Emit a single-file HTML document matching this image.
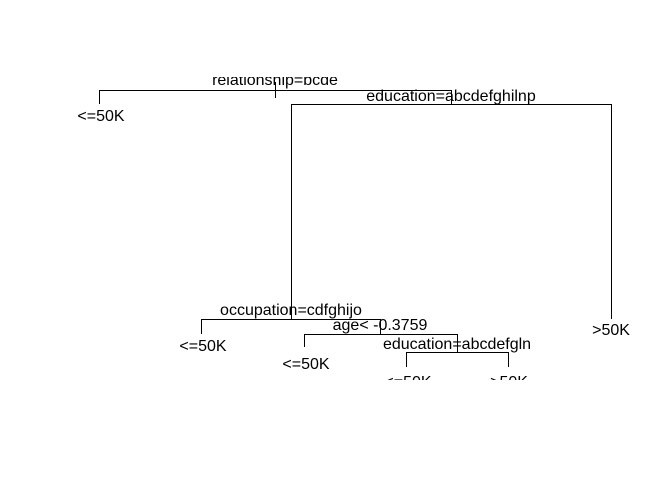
<!DOCTYPE html>
<html><head><style>html,body{margin:0;padding:0;background:#fff}</style></head>
<body>
<svg width="672" height="480" xmlns="http://www.w3.org/2000/svg" style="display:block">
<defs><clipPath id="c"><rect x="0" y="77" width="672" height="303"/></clipPath></defs>
<g clip-path="url(#c)" stroke="#000" stroke-width="1" fill="none" shape-rendering="crispEdges">
<path d="M275.5 82V98 M99.5 104V90.5H451.5V104"/>
<path d="M291.5 319V104.5H611.5V319"/>
<path d="M201.5 334V319.5H380.5V334"/>
<path d="M304.5 347V334.5H457.5V352"/>
<path d="M406.5 367V352.5H508.5V367"/>
</g>
<g clip-path="url(#c)" font-family="Liberation Sans, sans-serif" font-size="16" fill="#000" text-anchor="middle">
<text x="275" y="85">relationship=bcde</text>
<text x="451" y="101">education=abcdefghilnp</text>
<text x="101" y="121">&lt;=50K</text>
<text x="291" y="315">occupation=cdfghijo</text>
<text x="611" y="335">&gt;50K</text>
<text x="380" y="330">age&lt; -0.3759</text>
<text x="203" y="351">&lt;=50K</text>
<text x="457" y="349">education=abcdefgln</text>
<text x="306" y="369">&lt;=50K</text>
<text x="408" y="387">&lt;=50K</text>
<text x="509" y="387">&gt;50K</text>
</g>
</svg>
</body></html>
